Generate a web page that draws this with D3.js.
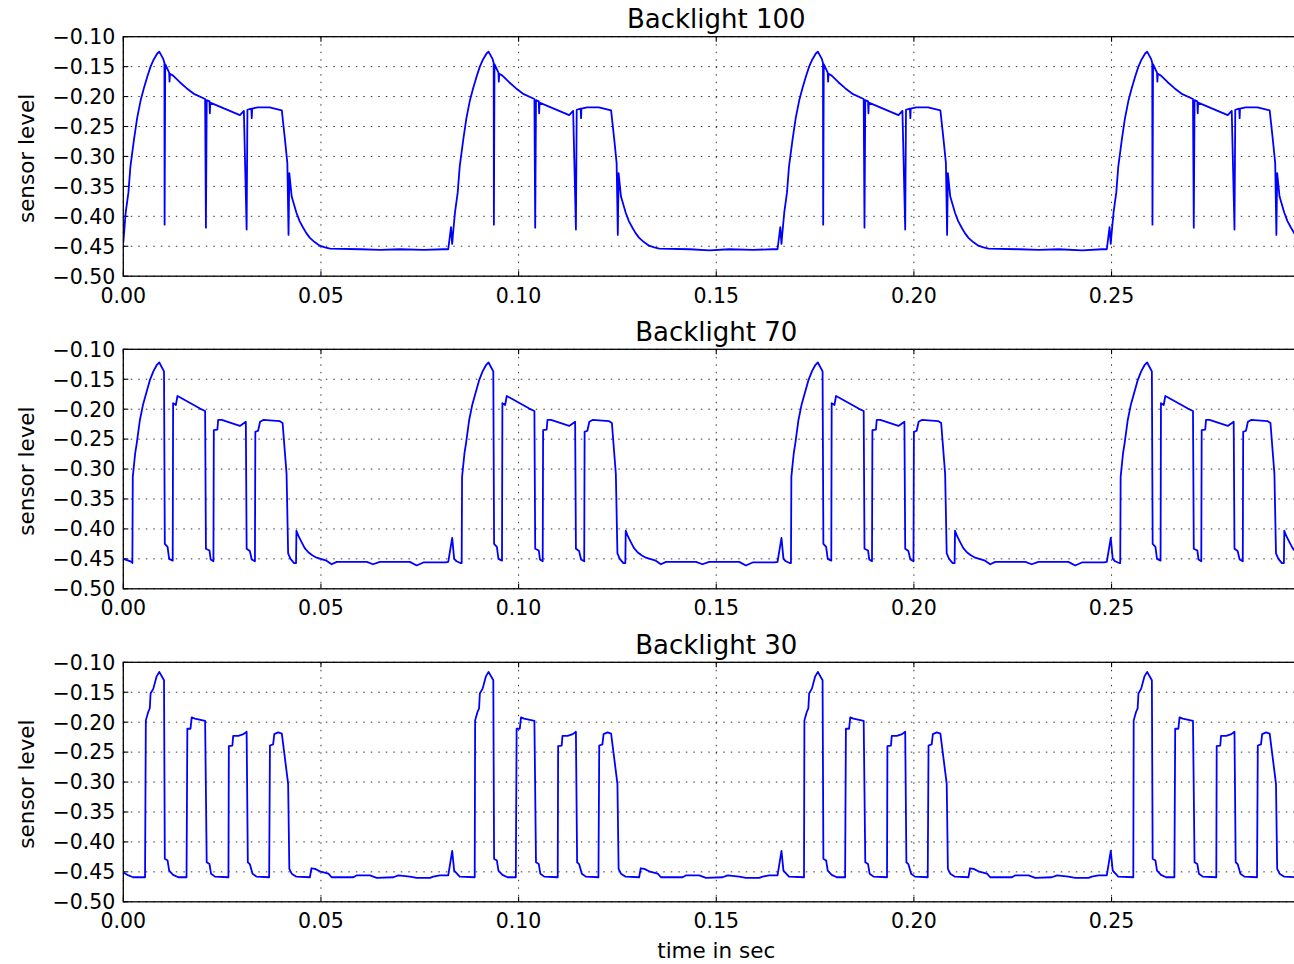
<!DOCTYPE html>
<meta charset="utf-8">
<style>
body { margin: 0; background: #fff; }
text { font-family: "DejaVu Sans", sans-serif; fill: #000; }
.grid line { stroke: #000; stroke-width: 1; stroke-dasharray: 1.5,6; stroke-opacity: 0.8; }
.frame { fill: none; stroke: #000; stroke-width: 1.3; }
.ticks line { stroke: #000; stroke-width: 1.1; }
.trace { fill: none; stroke: #0000ff; stroke-width: 1.8; stroke-linejoin: round; }
</style>
<svg width="1294" height="964"></svg>
<script src="https://d3js.org/d3.v7.min.js"></script>
<script>

var titles = ["Backlight 100", "Backlight 70", "Backlight 30"];
var xTicks = [0, 0.05, 0.10, 0.15, 0.20, 0.25];
var yTicks = [-0.10, -0.15, -0.20, -0.25, -0.30, -0.35, -0.40, -0.45, -0.50];

// [time in sec, sensor level]
var b100 = [
  [0.0000,-0.444],[0.0006,-0.394],[0.0013,-0.360],[0.0018,-0.317],[0.0027,-0.272],[0.0035,-0.236],[0.0044,-0.206],[0.0052,-0.186],
  [0.0061,-0.166],[0.0069,-0.150],[0.0077,-0.138],[0.0086,-0.128],[0.0091,-0.125],
  [0.0101,-0.137],[0.0104,-0.144],[0.01045,-0.414],[0.0106,-0.146],[0.0116,-0.160],[0.0117,-0.175],[0.0118,-0.162],[0.0126,-0.165],
  [0.0143,-0.176],[0.0160,-0.186],[0.0180,-0.196],[0.0207,-0.204],[0.0209,-0.419],[0.0211,-0.206],[0.0218,-0.208],[0.0219,-0.228],
  [0.0220,-0.210],[0.0295,-0.231],[0.0305,-0.224],[0.0312,-0.422],[0.0314,-0.222],[0.0324,-0.220],[0.0325,-0.236],[0.0326,-0.220],
  [0.0340,-0.218],[0.0370,-0.218],[0.0401,-0.223],[0.0409,-0.272],[0.0415,-0.311],[0.0418,-0.431],[0.0420,-0.328],[0.0426,-0.367],
  [0.0438,-0.394],[0.0446,-0.408],[0.0455,-0.419],[0.0463,-0.428],[0.0472,-0.436],[0.0484,-0.443],[0.0497,-0.449],[0.0510,-0.452],
  [0.0523,-0.454],[0.0600,-0.455],[0.0650,-0.456],[0.0700,-0.455],[0.0760,-0.456],[0.0810,-0.455],
  [0.0822,-0.455],[0.0829,-0.418],[0.0832,-0.446],[0.0834,-0.430],[0.0839,-0.394],[0.0846,-0.360],[0.0851,-0.317],[0.0860,-0.272],
  [0.0868,-0.236],[0.0877,-0.206],[0.0885,-0.186],[0.0894,-0.166],[0.0902,-0.150],[0.0910,-0.138],[0.0919,-0.128],[0.0924,-0.125],
  [0.0934,-0.137],[0.0937,-0.144],[0.09375,-0.414],[0.0939,-0.146],[0.0949,-0.160],
  [0.0950,-0.175],[0.0951,-0.162],[0.0959,-0.165],[0.0976,-0.176],[0.0993,-0.186],[0.1013,-0.196],[0.1040,-0.204],[0.1042,-0.419],
  [0.1044,-0.206],[0.1051,-0.208],[0.1052,-0.228],[0.1053,-0.210],[0.1128,-0.231],[0.1138,-0.224],[0.1145,-0.422],[0.1147,-0.222],
  [0.1157,-0.220],[0.1158,-0.236],[0.1159,-0.220],[0.1173,-0.218],[0.1203,-0.218],[0.1234,-0.223],[0.1242,-0.272],[0.1248,-0.311],
  [0.1251,-0.431],[0.1253,-0.328],[0.1259,-0.367],[0.1271,-0.394],[0.1279,-0.408],[0.1288,-0.419],[0.1296,-0.428],[0.1305,-0.436],
  [0.1317,-0.443],[0.1330,-0.449],[0.1343,-0.452],[0.1356,-0.454],
  [0.1433,-0.455],[0.1483,-0.457],[0.1533,-0.455],[0.1593,-0.456],[0.1643,-0.455],
  [0.1655,-0.455],[0.1662,-0.418],[0.1665,-0.446],[0.1667,-0.430],[0.1672,-0.394],[0.1679,-0.360],[0.1684,-0.317],[0.1693,-0.272],
  [0.1701,-0.236],[0.1710,-0.206],[0.1718,-0.186],[0.1727,-0.166],[0.1735,-0.150],[0.1743,-0.138],[0.1752,-0.128],[0.1757,-0.125],
  [0.1767,-0.137],[0.1770,-0.144],[0.17705,-0.414],[0.1772,-0.146],[0.1782,-0.160],
  [0.1783,-0.175],[0.1784,-0.162],[0.1792,-0.165],[0.1809,-0.176],[0.1826,-0.186],[0.1846,-0.196],[0.1873,-0.204],[0.1875,-0.419],
  [0.1877,-0.206],[0.1884,-0.208],[0.1885,-0.228],[0.1886,-0.210],[0.1961,-0.231],[0.1971,-0.224],[0.1978,-0.422],[0.1980,-0.222],
  [0.1990,-0.220],[0.1991,-0.236],[0.1992,-0.220],[0.2006,-0.218],[0.2036,-0.218],[0.2067,-0.223],[0.2075,-0.272],[0.2081,-0.311],
  [0.2084,-0.431],[0.2086,-0.328],[0.2092,-0.367],[0.2104,-0.394],[0.2112,-0.408],[0.2121,-0.419],[0.2129,-0.428],[0.2138,-0.436],
  [0.2150,-0.443],[0.2163,-0.449],[0.2176,-0.452],[0.2189,-0.454],
  [0.2266,-0.455],[0.2316,-0.456],[0.2366,-0.455],[0.2426,-0.457],[0.2476,-0.455],
  [0.2488,-0.455],[0.2495,-0.418],[0.2498,-0.446],[0.2500,-0.430],[0.2505,-0.394],[0.2512,-0.360],[0.2517,-0.317],[0.2526,-0.272],
  [0.2534,-0.236],[0.2543,-0.206],[0.2551,-0.186],[0.2560,-0.166],[0.2568,-0.150],[0.2576,-0.138],[0.2585,-0.128],[0.2590,-0.125],
  [0.2600,-0.137],[0.2603,-0.144],[0.26035,-0.414],[0.2605,-0.146],[0.2615,-0.160],
  [0.2616,-0.175],[0.2617,-0.162],[0.2625,-0.165],[0.2642,-0.176],[0.2659,-0.186],[0.2679,-0.196],[0.2706,-0.204],[0.2708,-0.419],
  [0.2710,-0.206],[0.2717,-0.208],[0.2718,-0.228],[0.2719,-0.210],[0.2794,-0.231],[0.2804,-0.224],[0.2811,-0.422],[0.2813,-0.222],
  [0.2823,-0.220],[0.2824,-0.236],[0.2825,-0.220],[0.2839,-0.218],[0.2869,-0.218],[0.2900,-0.223],[0.2908,-0.272],[0.2914,-0.311],
  [0.2917,-0.431],[0.2919,-0.328],[0.2925,-0.367],[0.2937,-0.394],[0.2945,-0.408],[0.2954,-0.419],[0.2962,-0.428],[0.2971,-0.436]
];

var b70 = [
  [0.0000,-0.450],[0.0013,-0.453],[0.0021,-0.455],[0.0023,-0.457],[0.0024,-0.313],[0.0030,-0.274],[0.0034,-0.257],[0.0042,-0.218],
  [0.0050,-0.192],[0.0059,-0.171],[0.0067,-0.152],[0.0076,-0.137],[0.0084,-0.127],[0.0091,-0.122],[0.0103,-0.137],[0.0105,-0.425],
  [0.0112,-0.430],[0.0116,-0.450],[0.0125,-0.453],
  [0.0126,-0.190],[0.0133,-0.193],[0.0137,-0.178],[0.0143,-0.180],[0.0194,-0.199],[0.0207,-0.203],[0.0209,-0.433],[0.0218,-0.436],
  [0.0221,-0.451],[0.0228,-0.454],[0.0229,-0.235],[0.0238,-0.234],[0.0240,-0.218],[0.0249,-0.218],[0.0295,-0.228],[0.0310,-0.221],
  [0.0312,-0.433],[0.0320,-0.437],[0.0325,-0.451],[0.0333,-0.454],[0.0334,-0.238],[0.0341,-0.236],[0.0346,-0.221],[0.0354,-0.218],
  [0.0396,-0.220],[0.0403,-0.223],[0.0413,-0.308],[0.0417,-0.441],[0.0423,-0.450],[0.0432,-0.457],[0.0437,-0.457],[0.0438,-0.403],
  [0.0444,-0.413],[0.0451,-0.422],[0.0459,-0.432],[0.0468,-0.439],[0.0478,-0.444],[0.0489,-0.448],[0.0514,-0.453],[0.0527,-0.459],
  [0.0540,-0.455],[0.0616,-0.455],[0.0632,-0.459],
  [0.0649,-0.455],[0.0725,-0.455],[0.0742,-0.461],[0.0759,-0.456],[0.0815,-0.456],
  [0.0822,-0.455],[0.0832,-0.415],[0.0837,-0.450],[0.0843,-0.454],[0.0853,-0.457],[0.0856,-0.457],[0.0857,-0.313],[0.0863,-0.274],
  [0.0867,-0.257],[0.0875,-0.218],[0.0883,-0.192],[0.0892,-0.171],[0.0900,-0.152],[0.0909,-0.137],[0.0917,-0.127],[0.0924,-0.122],
  [0.0936,-0.137],[0.0938,-0.425],[0.0945,-0.430],
  [0.0949,-0.450],[0.0958,-0.453],[0.0959,-0.190],[0.0966,-0.193],[0.0970,-0.178],[0.0976,-0.180],[0.1027,-0.199],[0.1040,-0.203],
  [0.1042,-0.433],[0.1051,-0.436],[0.1054,-0.451],[0.1061,-0.454],[0.1062,-0.235],[0.1071,-0.234],[0.1073,-0.218],[0.1082,-0.218],
  [0.1128,-0.228],[0.1143,-0.221],[0.1145,-0.433],[0.1153,-0.437],[0.1158,-0.451],[0.1166,-0.454],[0.1167,-0.238],[0.1174,-0.236],
  [0.1179,-0.221],[0.1187,-0.218],[0.1229,-0.220],[0.1236,-0.223],[0.1246,-0.308],[0.1250,-0.441],[0.1256,-0.450],[0.1265,-0.457],
  [0.1270,-0.457],[0.1271,-0.403],[0.1277,-0.413],[0.1284,-0.422],[0.1292,-0.432],[0.1301,-0.439],[0.1311,-0.444],[0.1322,-0.448],
  [0.1347,-0.453],[0.1360,-0.459],[0.1373,-0.455],
  [0.1449,-0.455],[0.1465,-0.459],[0.1482,-0.455],[0.1558,-0.455],[0.1575,-0.461],[0.1592,-0.456],[0.1648,-0.456],
  [0.1655,-0.455],[0.1665,-0.415],[0.1670,-0.450],[0.1676,-0.454],[0.1686,-0.457],[0.1689,-0.457],[0.1690,-0.313],[0.1696,-0.274],
  [0.1700,-0.257],[0.1708,-0.218],[0.1716,-0.192],[0.1725,-0.171],[0.1733,-0.152],[0.1742,-0.137],[0.1750,-0.127],[0.1757,-0.122],
  [0.1769,-0.137],[0.1771,-0.425],[0.1778,-0.430],
  [0.1782,-0.450],[0.1791,-0.453],[0.1792,-0.190],[0.1799,-0.193],[0.1803,-0.178],[0.1809,-0.180],[0.1860,-0.199],[0.1873,-0.203],
  [0.1875,-0.433],[0.1884,-0.436],[0.1887,-0.451],[0.1894,-0.454],[0.1895,-0.235],[0.1904,-0.234],[0.1906,-0.218],[0.1915,-0.218],
  [0.1961,-0.228],[0.1976,-0.221],[0.1978,-0.433],[0.1986,-0.437],[0.1991,-0.451],[0.1999,-0.454],[0.2000,-0.238],[0.2007,-0.236],
  [0.2012,-0.221],[0.2020,-0.218],[0.2062,-0.220],[0.2069,-0.223],[0.2079,-0.308],[0.2083,-0.441],[0.2089,-0.450],[0.2098,-0.457],
  [0.2103,-0.457],[0.2104,-0.403],[0.2110,-0.413],[0.2117,-0.422],[0.2125,-0.432],[0.2134,-0.439],[0.2144,-0.444],[0.2155,-0.448],
  [0.2180,-0.453],[0.2193,-0.459],[0.2206,-0.455],
  [0.2282,-0.455],[0.2298,-0.459],[0.2315,-0.455],[0.2391,-0.455],[0.2408,-0.461],[0.2425,-0.456],[0.2481,-0.456],
  [0.2488,-0.455],[0.2498,-0.415],[0.2503,-0.450],[0.2509,-0.454],[0.2519,-0.457],[0.2522,-0.457],[0.2523,-0.313],[0.2529,-0.274],
  [0.2533,-0.257],[0.2541,-0.218],[0.2549,-0.192],[0.2558,-0.171],[0.2566,-0.152],[0.2575,-0.137],[0.2583,-0.127],[0.2590,-0.122],
  [0.2602,-0.137],[0.2604,-0.425],[0.2611,-0.430],
  [0.2615,-0.450],[0.2624,-0.453],[0.2625,-0.190],[0.2632,-0.193],[0.2636,-0.178],[0.2642,-0.180],[0.2693,-0.199],[0.2706,-0.203],
  [0.2708,-0.433],[0.2717,-0.436],[0.2720,-0.451],[0.2727,-0.454],[0.2728,-0.235],[0.2737,-0.234],[0.2739,-0.218],[0.2748,-0.218],
  [0.2794,-0.228],[0.2809,-0.221],[0.2811,-0.433],[0.2819,-0.437],[0.2824,-0.451],[0.2832,-0.454],[0.2833,-0.238],[0.2840,-0.236],
  [0.2845,-0.221],[0.2853,-0.218],[0.2895,-0.220],[0.2902,-0.223],[0.2912,-0.308],[0.2916,-0.441],[0.2922,-0.450],[0.2931,-0.457],
  [0.2936,-0.457],[0.2937,-0.403],[0.2943,-0.413],[0.2950,-0.422],[0.2958,-0.432],[0.2967,-0.439]
];

var b30 = [
  [0.0000,-0.451],[0.0013,-0.456],[0.0025,-0.459],[0.0055,-0.459],[0.0057,-0.197],[0.0063,-0.183],[0.0067,-0.177],[0.0069,-0.152],
  [0.0076,-0.144],[0.0084,-0.124],[0.0091,-0.116],[0.0103,-0.130],[0.0105,-0.428],[0.0112,-0.431],[0.0116,-0.448],[0.0126,-0.455],
  [0.0139,-0.459],[0.0160,-0.459],[0.0162,-0.211],[0.0170,-0.211],[0.0173,-0.192],[0.0181,-0.194],[0.0207,-0.198],[0.0211,-0.434],
  [0.0218,-0.437],[0.0222,-0.453],[0.0232,-0.458],[0.0266,-0.459],[0.0267,-0.240],[0.0276,-0.239],[0.0278,-0.223],[0.0291,-0.223],
  [0.0304,-0.220],[0.0312,-0.216],[0.0315,-0.434],[0.0320,-0.437],[0.0327,-0.453],[0.0337,-0.458],[0.0369,-0.459],[0.0371,-0.239],
  [0.0379,-0.237],[0.0382,-0.220],[0.0392,-0.217],[0.0401,-0.219],[0.0417,-0.303],[0.0420,-0.445],[0.0426,-0.453],[0.0438,-0.458],
  [0.0472,-0.459],[0.0476,-0.444],[0.0485,-0.445],[0.0497,-0.449],[0.0519,-0.453],[0.0527,-0.459],[0.0582,-0.459],[0.0590,-0.456],
  [0.0624,-0.456],[0.0641,-0.460],[0.0683,-0.459],[0.0696,-0.456],[0.0725,-0.458],[0.0742,-0.460],[0.0776,-0.460],[0.0784,-0.458],
  [0.0801,-0.456],[0.0822,-0.456],[0.0832,-0.415],[0.0837,-0.448],[0.0851,-0.458],[0.0889,-0.459],
  [0.0890,-0.197],[0.0896,-0.183],[0.0900,-0.177],[0.0902,-0.152],[0.0909,-0.144],[0.0917,-0.124],[0.0924,-0.116],[0.0936,-0.130],
  [0.0938,-0.428],[0.0945,-0.431],[0.0949,-0.448],[0.0959,-0.455],[0.0972,-0.459],[0.0993,-0.459],[0.0995,-0.211],[0.1003,-0.211],
  [0.1006,-0.192],[0.1014,-0.194],[0.1040,-0.198],[0.1044,-0.434],[0.1051,-0.437],[0.1055,-0.453],[0.1065,-0.458],[0.1099,-0.459],
  [0.1100,-0.240],[0.1109,-0.239],[0.1111,-0.223],[0.1124,-0.223],[0.1137,-0.220],[0.1145,-0.216],[0.1148,-0.434],[0.1153,-0.437],
  [0.1160,-0.453],[0.1170,-0.458],[0.1202,-0.459],[0.1204,-0.239],[0.1212,-0.237],[0.1215,-0.220],[0.1225,-0.217],[0.1234,-0.219],
  [0.1250,-0.303],[0.1253,-0.445],[0.1259,-0.453],[0.1271,-0.458],[0.1305,-0.459],[0.1309,-0.444],[0.1318,-0.445],[0.1330,-0.449],
  [0.1352,-0.453],[0.1360,-0.459],[0.1415,-0.459],[0.1423,-0.456],[0.1457,-0.456],[0.1474,-0.460],[0.1516,-0.459],[0.1529,-0.456],
  [0.1558,-0.458],[0.1575,-0.460],[0.1609,-0.460],[0.1617,-0.458],[0.1634,-0.456],[0.1655,-0.456],[0.1665,-0.415],[0.1670,-0.448],
  [0.1684,-0.458],[0.1722,-0.459],
  [0.1723,-0.197],[0.1729,-0.183],[0.1733,-0.177],[0.1735,-0.152],[0.1742,-0.144],[0.1750,-0.124],[0.1757,-0.116],[0.1769,-0.130],
  [0.1771,-0.428],[0.1778,-0.431],[0.1782,-0.448],[0.1792,-0.455],[0.1805,-0.459],[0.1826,-0.459],[0.1828,-0.211],[0.1836,-0.211],
  [0.1839,-0.192],[0.1847,-0.194],[0.1873,-0.198],[0.1877,-0.434],[0.1884,-0.437],[0.1888,-0.453],[0.1898,-0.458],[0.1932,-0.459],
  [0.1933,-0.240],[0.1942,-0.239],[0.1944,-0.223],[0.1957,-0.223],[0.1970,-0.220],[0.1978,-0.216],[0.1981,-0.434],[0.1986,-0.437],
  [0.1993,-0.453],[0.2003,-0.458],[0.2035,-0.459],[0.2037,-0.239],[0.2045,-0.237],[0.2048,-0.220],[0.2058,-0.217],[0.2067,-0.219],
  [0.2083,-0.303],[0.2086,-0.445],[0.2092,-0.453],[0.2104,-0.458],[0.2138,-0.459],[0.2142,-0.444],[0.2151,-0.445],[0.2163,-0.449],
  [0.2185,-0.453],[0.2193,-0.459],[0.2248,-0.459],[0.2256,-0.456],[0.2290,-0.456],[0.2307,-0.460],[0.2349,-0.459],[0.2362,-0.456],
  [0.2391,-0.458],[0.2408,-0.460],[0.2442,-0.460],[0.2450,-0.458],[0.2467,-0.456],[0.2488,-0.456],[0.2498,-0.415],[0.2503,-0.448],
  [0.2517,-0.458],[0.2555,-0.459],
  [0.2556,-0.197],[0.2562,-0.183],[0.2566,-0.177],[0.2568,-0.152],[0.2575,-0.144],[0.2583,-0.124],[0.2590,-0.116],[0.2602,-0.130],
  [0.2604,-0.428],[0.2611,-0.431],[0.2615,-0.448],[0.2625,-0.455],[0.2638,-0.459],[0.2659,-0.459],[0.2661,-0.211],[0.2669,-0.211],
  [0.2672,-0.192],[0.2680,-0.194],[0.2706,-0.198],[0.2710,-0.434],[0.2717,-0.437],[0.2721,-0.453],[0.2731,-0.458],[0.2765,-0.459],
  [0.2766,-0.240],[0.2775,-0.239],[0.2777,-0.223],[0.2790,-0.223],[0.2803,-0.220],[0.2811,-0.216],[0.2814,-0.434],[0.2819,-0.437],
  [0.2826,-0.453],[0.2836,-0.458],[0.2868,-0.459],[0.2870,-0.239],[0.2878,-0.237],[0.2881,-0.220],[0.2891,-0.217],[0.2900,-0.219],
  [0.2916,-0.303],[0.2919,-0.445],[0.2925,-0.453],[0.2937,-0.458],[0.2971,-0.459]
];

var series = [b100, b70, b30];

var svg = d3.select("svg");
var left = 123.3, right = 1309.2, ph = 239.5;
var tops = [36.7, 349.3, 662.3];

var x = d3.scaleLinear().domain([0, 0.30]).range([left, right]);
var fmt = d3.format(".2f");

series.forEach(function(data, i) {
  var top = tops[i];
  var y = d3.scaleLinear().domain([-0.50, -0.10]).range([top + ph, top]);
  var g = svg.append("g");

  // clip the trace to its axes box
  g.append("clipPath").attr("id", "clip" + i)
    .append("rect").attr("x", left).attr("y", top).attr("width", right - left).attr("height", ph);

  // dotted grid
  var grid = g.append("g").attr("class", "grid");
  grid.selectAll(".gx").data(xTicks).enter().append("line")
      .attr("x1", function(d) { return x(d); }).attr("x2", function(d) { return x(d); })
      .attr("y1", top).attr("y2", top + ph);
  grid.selectAll(".gy").data(yTicks).enter().append("line")
      .attr("x1", left).attr("x2", right)
      .attr("y1", function(d) { return y(d); }).attr("y2", function(d) { return y(d); });

  // inward ticks
  var tk = g.append("g").attr("class", "ticks");
  xTicks.forEach(function(d) {
    tk.append("line").attr("x1", x(d)).attr("x2", x(d)).attr("y1", top + ph).attr("y2", top + ph - 5);
    tk.append("line").attr("x1", x(d)).attr("x2", x(d)).attr("y1", top).attr("y2", top + 5);
  });
  yTicks.forEach(function(d) {
    tk.append("line").attr("x1", left).attr("x2", left + 5).attr("y1", y(d)).attr("y2", y(d));
  });

  var line = d3.line().x(function(d) { return x(d[0]); }).y(function(d) { return y(d[1]); });
  g.append("path").datum(data)
      .attr("class", "trace")
      .attr("clip-path", "url(#clip" + i + ")")
      .attr("d", line);

  g.append("rect").attr("class", "frame")
      .attr("x", left).attr("y", top).attr("width", right - left).attr("height", ph);

  g.selectAll(".xl").data(xTicks).enter().append("text")
      .attr("x", function(d) { return x(d); })
      .attr("y", top + ph + 26.5)
      .attr("text-anchor", "middle")
      .style("font-size", "20.5px")
      .text(fmt);
  g.selectAll(".yl").data(yTicks).enter().append("text")
      .attr("x", left - 8)
      .attr("y", function(d) { return y(d); })
      .attr("dy", "0.36em")
      .attr("text-anchor", "end")
      .style("font-size", "20.5px")
      .text(fmt);

  g.append("text")
      .attr("x", (left + right) / 2).attr("y", top - 8.5)
      .attr("text-anchor", "middle")
      .style("font-size", "26px")
      .text(titles[i]);

  g.append("text")
      .attr("transform", "translate(34," + (top + ph / 2 + 2) + ") rotate(-90)")
      .attr("text-anchor", "middle")
      .style("font-size", "21.5px")
      .text("sensor level");
});

svg.append("text")
    .attr("x", (left + right) / 2).attr("y", 958)
    .attr("text-anchor", "middle")
    .style("font-size", "21.5px")
    .text("time in sec");

</script>
